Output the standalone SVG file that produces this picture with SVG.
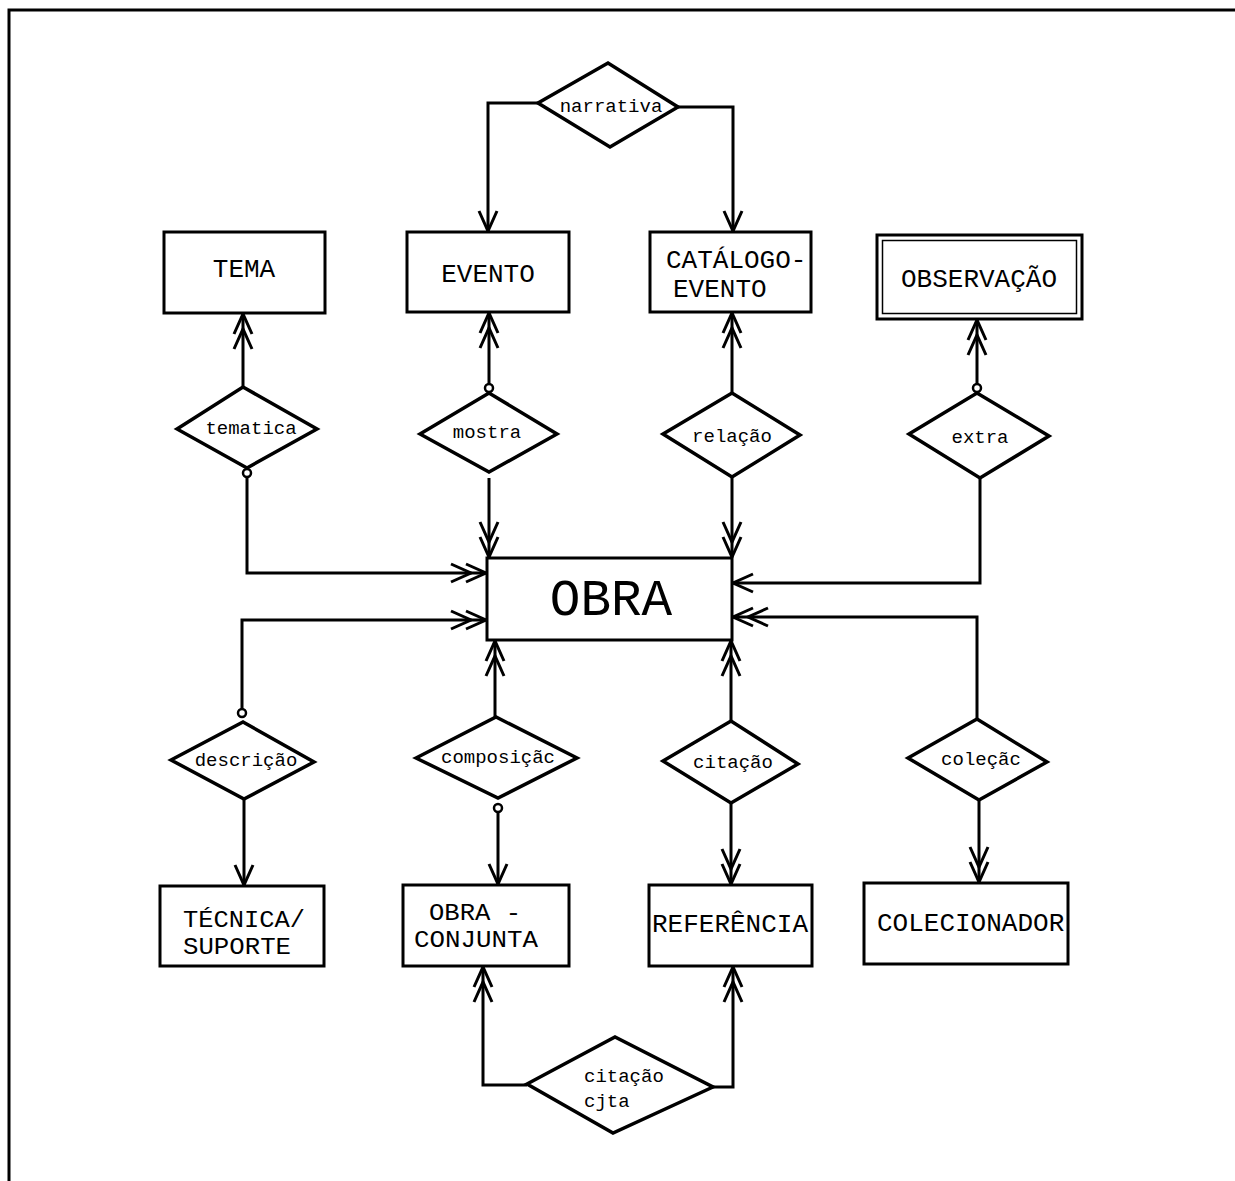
<svg xmlns="http://www.w3.org/2000/svg" width="1235" height="1181" viewBox="0 0 1235 1181">
  <style>
    .frame { fill: none; stroke: #000; stroke-width: 3; }
    .ent { fill: #fff; stroke: #000; stroke-width: 3; }
    .rel { fill: #fff; stroke: #000; stroke-width: 3.5; stroke-linejoin: miter; }
    .ent-t { font-family: "Liberation Mono", "Courier New", monospace; font-size: 26px; fill: #000; }
    .ent-t2 { font-family: "Liberation Mono", "Courier New", monospace; font-size: 23px; fill: #000; }
    .big-t { font-family: "Liberation Mono", "Courier New", monospace; font-size: 51px; fill: #000; }
    .rel-t { font-family: "Liberation Mono", "Courier New", monospace; font-size: 19px; fill: #000; }
    .edge { fill: none; stroke: #000; stroke-width: 3; }
    .opt { fill: #fff; stroke: #000; stroke-width: 2.5; }
  </style>
  <defs>
    <marker id="one" viewBox="-24 -12 26 24" refX="0" refY="0" markerWidth="26" markerHeight="24" markerUnits="userSpaceOnUse" orient="auto" overflow="visible">
      <path d="M-20,-9 L0,0 L-20,9" fill="none" stroke="#000" stroke-width="3"/>
    </marker>
    <marker id="two" viewBox="-38 -12 40 24" refX="0" refY="0" markerWidth="40" markerHeight="24" markerUnits="userSpaceOnUse" orient="auto" overflow="visible">
      <path d="M-20,-9 L0,0 L-20,9 M-35,-9 L-15,0 L-35,9" fill="none" stroke="#000" stroke-width="3"/>
    </marker>
  </defs>

  <rect width="1235" height="1181" fill="#fff"/>
  <!-- page frame: top and left rules -->
  <path class="frame" d="M9,1181 V10 H1235"/>

  <!-- connectors -->
  <g id="connectors">
    <path class="edge" d="M538,103 H488 V231" marker-end="url(#one)"/>
    <path class="edge" d="M678,107 H733 V231" marker-end="url(#one)"/>

    <path class="edge" d="M243,387 V314" marker-end="url(#two)"/>
    <path class="edge" d="M247,477 V573 H486" marker-end="url(#two)"/>
    <circle class="opt" cx="247" cy="473" r="4"/>

    <path class="edge" d="M489,384 V313" marker-end="url(#two)"/>
    <circle class="opt" cx="489" cy="388" r="4"/>
    <path class="edge" d="M489,478 V557" marker-end="url(#two)"/>

    <path class="edge" d="M732,393 V313" marker-end="url(#two)"/>
    <path class="edge" d="M732,477 V557" marker-end="url(#two)"/>

    <path class="edge" d="M977,384 V320" marker-end="url(#two)"/>
    <circle class="opt" cx="977" cy="388" r="4"/>
    <path class="edge" d="M980,478 V583 H733" marker-end="url(#one)"/>

    <path class="edge" d="M242,709 V620 H486" marker-end="url(#two)"/>
    <circle class="opt" cx="242" cy="713" r="4"/>
    <path class="edge" d="M244,799 V885" marker-end="url(#one)"/>

    <path class="edge" d="M495,717 V641" marker-end="url(#two)"/>
    <path class="edge" d="M498,812 V884" marker-end="url(#one)"/>
    <circle class="opt" cx="498" cy="808" r="4"/>

    <path class="edge" d="M731,721 V641" marker-end="url(#two)"/>
    <path class="edge" d="M731,803 V884" marker-end="url(#two)"/>

    <path class="edge" d="M977,719 V617 H733" marker-end="url(#two)"/>
    <path class="edge" d="M979,800 V882" marker-end="url(#two)"/>

    <path class="edge" d="M527,1085 H483 V967" marker-end="url(#two)"/>
    <path class="edge" d="M713,1087 H733 V967" marker-end="url(#two)"/>
  </g>

  <!-- entities -->
  <g id="tema">
    <rect class="ent" x="164" y="232" width="161" height="81"/>
    <text class="ent-t" x="244" y="277" text-anchor="middle">TEMA</text>
  </g>
  <g id="evento">
    <rect class="ent" x="407" y="232" width="162" height="80"/>
    <text class="ent-t" x="488" y="282" text-anchor="middle">EVENTO</text>
  </g>
  <g id="catalogo-evento">
    <rect class="ent" x="650" y="232" width="161" height="80"/>
    <text class="ent-t" x="666" y="268">CATÁLOGO-</text>
    <text class="ent-t" x="673" y="297">EVENTO</text>
  </g>
  <g id="observacao">
    <rect class="ent" x="877" y="235" width="205" height="84"/>
    <rect x="882.5" y="240.5" width="194" height="73" fill="none" stroke="#000" stroke-width="1.5"/>
    <text class="ent-t" x="979" y="287" text-anchor="middle">OBSERVAÇÃO</text>
  </g>
  <g id="obra">
    <rect class="ent" x="487" y="558" width="245" height="82"/>
    <text class="big-t" x="611" y="615" text-anchor="middle">OBRA</text>
  </g>
  <g id="tecnica-suporte">
    <rect class="ent" x="160" y="886" width="164" height="80"/>
    <text class="ent-t2" x="183" y="927" textLength="122" lengthAdjust="spacingAndGlyphs">TÉCNICA/</text>
    <text class="ent-t2" x="183" y="954" textLength="108" lengthAdjust="spacingAndGlyphs">SUPORTE</text>
  </g>
  <g id="obra-conjunta">
    <rect class="ent" x="403" y="885" width="166" height="81"/>
    <text class="ent-t2" x="429" y="920" textLength="92" lengthAdjust="spacingAndGlyphs">OBRA -</text>
    <text class="ent-t2" x="414" y="947" textLength="124" lengthAdjust="spacingAndGlyphs">CONJUNTA</text>
  </g>
  <g id="referencia">
    <rect class="ent" x="649" y="885" width="163" height="81"/>
    <text class="ent-t" x="652" y="932">REFERÊNCIA</text>
  </g>
  <g id="colecionador">
    <rect class="ent" x="864" y="883" width="204" height="81"/>
    <text class="ent-t" x="877" y="931">COLECIONADOR</text>
  </g>

  <!-- relationships -->
  <g id="narrativa">
    <polygon class="rel" points="538,103 608,63 678,107 610,147"/>
    <text class="rel-t" x="611" y="112" text-anchor="middle">narrativa</text>
  </g>
  <g id="tematica">
    <polygon class="rel" points="177,429 243,387 317,429 247,468"/>
    <text class="rel-t" x="251" y="434" text-anchor="middle">tematica</text>
  </g>
  <g id="mostra">
    <polygon class="rel" points="420,434 489,393 557,434 489,472"/>
    <text class="rel-t" x="487" y="438" text-anchor="middle">mostra</text>
  </g>
  <g id="relacao">
    <polygon class="rel" points="663,434 732,393 800,435 732,477"/>
    <text class="rel-t" x="732" y="442" text-anchor="middle">relação</text>
  </g>
  <g id="extra">
    <polygon class="rel" points="909,434 977,393 1049,436 980,478"/>
    <text class="rel-t" x="980" y="443" text-anchor="middle">extra</text>
  </g>
  <g id="descricao">
    <polygon class="rel" points="171,760 243,722 314,762 244,799"/>
    <text class="rel-t" x="246" y="766" text-anchor="middle">descrição</text>
  </g>
  <g id="composicao">
    <polygon class="rel" points="416,758 496,717 577,758 498,798"/>
    <text class="rel-t" x="498" y="763" text-anchor="middle">composiçãc</text>
  </g>
  <g id="citacao">
    <polygon class="rel" points="663,761 731,721 798,764 731,803"/>
    <text class="rel-t" x="733" y="768" text-anchor="middle">citação</text>
  </g>
  <g id="colecao">
    <polygon class="rel" points="908,758 977,719 1047,762 979,800"/>
    <text class="rel-t" x="981" y="765" text-anchor="middle">coleçãc</text>
  </g>
  <g id="citacao-cjta">
    <polygon class="rel" points="527,1084 615,1037 713,1087 613,1133"/>
    <text class="rel-t" x="584" y="1082">citação</text>
    <text class="rel-t" x="584" y="1107">cjta</text>
  </g>
</svg>
